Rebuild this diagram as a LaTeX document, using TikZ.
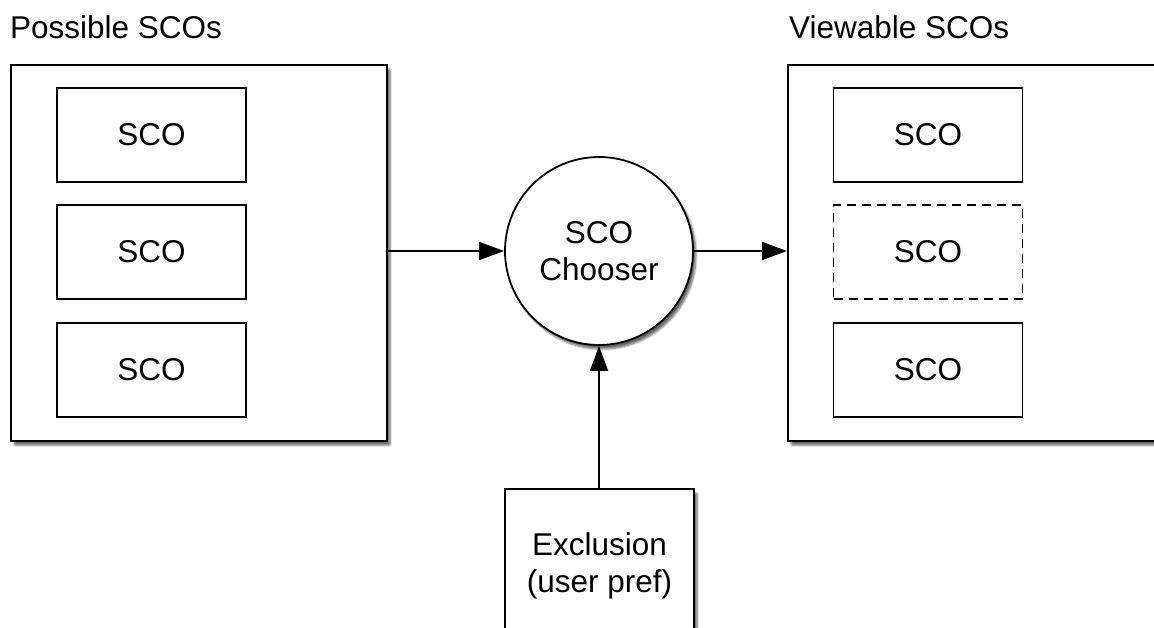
\documentclass[tikz,border=0pt]{standalone}
\usepackage{fontspec}
\setmainfont{Liberation Sans}
\usetikzlibrary{arrows.meta,shadows.blur}
\begin{document}
\begin{tikzpicture}[x=1pt,y=-1pt,
  font=\fontsize{31.5}{37}\selectfont,
  container/.style={draw,line width=2.2pt,fill=white,rectangle,anchor=north west,inner sep=0pt,
    blur shadow={shadow xshift=3pt,shadow yshift=-4pt,shadow blur steps=6,shadow blur extra rounding=1pt,shadow opacity=60}},
  item/.style={draw,line width=1.8pt,fill=white,rectangle,minimum width=189pt,minimum height=94pt,inner sep=0pt,align=center},
  chooser/.style={draw,line width=1.8pt,fill=white,circle,minimum size=188pt,inner sep=0pt,align=center,
    blur shadow={shadow xshift=3pt,shadow yshift=-4pt,shadow blur steps=6,shadow opacity=60}},
  flow/.style={line width=1.8pt,-{Triangle[length=25pt,width=18pt]}},
  title/.style={anchor=base west,inner sep=0pt}]
\useasboundingbox (0,0) rectangle (1154,627);

% captions
\node[title] (ptitle) at (10,38) {Possible SCOs};
\node[title] (vtitle) at (789,38) {Viewable SCOs};

% left container with its three SCOs
\node[container,minimum width=376pt,minimum height=376pt] (possible) at (10,64) {};
\node[item] (p1) at (151.5,135) {SCO};
\node[item] (p2) at (151.5,252) {SCO};
\node[item] (p3) at (151.5,370) {SCO};

% right container, running past the right edge
\node[container,minimum width=400pt,minimum height=376pt] (viewable) at (787,64) {};
\node[item] (v1) at (928,135) {SCO};
\node[item,dash pattern=on 9pt off 6pt] (v2) at (928,252) {SCO};
\node[item] (v3) at (928,370) {SCO};

% chooser and exclusion input
\node[chooser] (chooser) at (599,251) {SCO\\Chooser};
\node[container,minimum width=189pt,minimum height=160pt,align=center] (exclusion) at (504,488) {};
\node[align=center,inner sep=0pt] (exlabel) at ([yshift=3pt]exclusion.center) {Exclusion\\(user pref)};

% connectors
\draw[flow] (possible.east |- chooser.west) -- (chooser.west);
\draw[flow] (chooser.east) -- (viewable.west |- chooser.east);
\draw[flow] (exclusion.north -| chooser.south) -- (chooser.south);
\end{tikzpicture}
\end{document}
